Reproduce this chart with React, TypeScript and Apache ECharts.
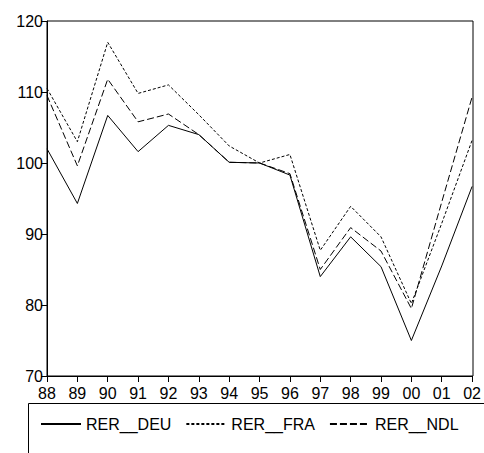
import React, { useEffect, useRef } from "react";
import * as echarts from "echarts";

const years = ["88","89","90","91","92","93","94","95","96","97","98","99","00","01","02"];
const deu = [102, 94.3, 106.7, 101.6, 105.3, 104, 100.1, 100, 98.3, 84, 89.6, 85.4, 75, 85.5, 96.7];
const fra = [110.5, 103, 117, 109.8, 111, 106.8, 102.4, 100, 101.2, 87.7, 93.9, 89.6, 80.2, 91.5, 103.2];
const ndl = [109.5, 99.6, 111.8, 105.8, 106.9, 104, 100.1, 100, 98.5, 85, 90.9, 87.6, 79.5, 94.5, 109.3];
const yTicks = [70, 80, 90, 100, 110, 120];

export default function App() {
  const ref = useRef<HTMLDivElement>(null);
  useEffect(() => {
    const chart = echarts.init(ref.current!, null, { renderer: "svg" });
    const font = "Liberation Sans, Arial, sans-serif";
    const mk = (name: string, data: number[], type: any) => ({
      name, type: "line", data, symbol: "none",
      lineStyle: { color: "#000", width: 1, type },
      itemStyle: { color: "#000" },
    });
    chart.setOption({
      animation: false,
      grid: { left: 47, right: 11, top: 21, bottom: 77 },
      xAxis: {
        type: "category", data: years, boundaryGap: false,
        axisLine: { lineStyle: { color: "#000" } },
        axisTick: { alignWithLabel: true, length: 6, lineStyle: { color: "#000" } },
        axisLabel: { color: "#000", fontSize: 16, fontFamily: font, margin: 9 },
        splitLine: { show: false },
      },
      yAxis: {
        type: "value", min: yTicks[0], max: yTicks[yTicks.length - 1], interval: 10,
        axisLine: { show: true, lineStyle: { color: "#000" } },
        axisTick: { show: true, length: 6, lineStyle: { color: "#000" } },
        axisLabel: { color: "#000", fontSize: 16, fontFamily: font, margin: 4 },
        splitLine: { show: false },
      },
      graphic: [
        { type: "rect", shape: { x: 47, y: 21, width: 426, height: 355 }, style: { fill: "none", stroke: "#000", lineWidth: 1 }, silent: true },
        { type: "rect", shape: { x: 28.5, y: 403.5, width: 470, height: 60 }, style: { fill: "none", stroke: "#000", lineWidth: 1 }, silent: true },
      ],
      legend: {
        left: 35, top: 411, width: 600, itemWidth: 40, itemHeight: 10, itemGap: 14,
        itemStyle: { opacity: 0 },
        textStyle: { color: "#000", fontSize: 16, fontFamily: font },
        data: ["RER__DEU", "RER__FRA", "RER__NDL"],
      },
      series: [mk("RER__DEU", deu, "solid"), mk("RER__FRA", fra, [3, 2]), mk("RER__NDL", ndl, [7, 3])],
    });
    return () => chart.dispose();
  }, []);
  return <div ref={ref} style={{ position: "fixed", left: 0, top: 0, width: 484, height: 453, background: "#fff" }} />;
}
